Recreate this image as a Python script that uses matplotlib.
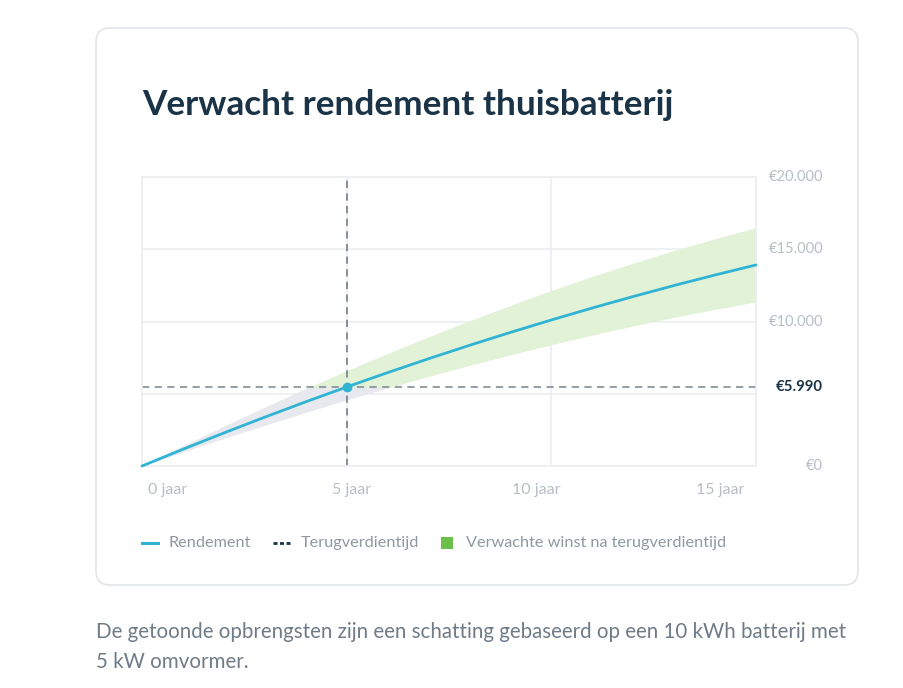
import numpy as np
import matplotlib.pyplot as plt
from matplotlib.patches import FancyBboxPatch, Rectangle
from matplotlib.lines import Line2D

plt.rcParams['font.family'] = ['Lato', 'DejaVu Sans']

# data (euro)
jaren = list(range(16))
rendement = [0, 1160, 2287, 3381, 4441, 5468, 6462, 7423, 8351, 9245,
             10106, 10934, 11729, 12491, 13219, 13914]
boven = [0, 1400, 2760, 4080, 5360, 6600, 7790, 8940, 10050, 11120,
         12150, 13120, 14040, 14910, 15730, 16500]
onder = [0, 970, 1910, 2820, 3710, 4570, 5400, 6200, 6960, 7690,
         8390, 9060, 9690, 10290, 10840, 11360]
terugverdien_jaar = 5
terugverdien_bedrag = 5990
x_ticks = [0, 5, 10, 15]
x_labels = ['0 jaar', '5 jaar', '10 jaar', '15 jaar']
y_grid = [0, 5000, 10000, 15000, 20000]
y_ticks = [0, 10000, 15000, 20000]
y_labels = ['€0', '€10.000', '€15.000', '€20.000']
legend_labels = ['Rendement', 'Terugverdientijd', 'Verwachte winst na terugverdientijd']

CYAN = '#31b4d4'
NAVY = '#1b3346'
GRID = '#eceef1'
LABEL = '#b7bec5'
LEGTXT = '#8e98a1'

fig = plt.figure(figsize=(9.04, 6.88), dpi=100)
fig.patch.set_facecolor('white')

# card (behind the axes)
card = FancyBboxPatch((96, 103), 762, 557, boxstyle='round,pad=0,rounding_size=14',
                      transform=None, facecolor='white', edgecolor='#e2e5e8', linewidth=1.2,
                      zorder=-5)
fig.patches.append(card)

fig.text(142 / 904, 1 - 105 / 688, 'Verwacht rendement thuisbatterij', fontsize=25.3,
         fontweight='bold', color=NAVY, va='center', ha='left')

ax = fig.add_axes([142 / 904, 1 - 466 / 688, 614 / 904, 289 / 688])
ax.set_facecolor('none')
ax.set_xlim(0, 15)
ax.set_ylim(0, 20000)
for s in ax.spines.values():
    s.set_color(GRID)
    s.set_linewidth(1.2)
ax.set_xticks([])
ax.set_yticks([])
for g in y_grid:
    ax.axhline(g, color=GRID, lw=1.2, zorder=0)
for t in x_ticks:
    ax.axvline(t, color=GRID, lw=1.2, zorder=0)

x = np.array(jaren)
hi = np.array(boven)
lo = np.array(onder)
pay_y = rendement[terugverdien_jaar]

# band: grey below the payback amount, green above
grey = ax.fill_between(x, lo, hi, color='#e7e9ee', lw=0, zorder=1)
grey.set_clip_path(Rectangle((0, 0), 15, pay_y, transform=ax.transData))
green = ax.fill_between(x, lo, hi, color='#e1f2d7', lw=0, zorder=1)
green.set_clip_path(Rectangle((0, pay_y), 15, 20000, transform=ax.transData))

ax.axhline(pay_y, color='#8c969d', lw=1.3, dashes=(4, 3), zorder=2)
ax.axvline(terugverdien_jaar, color='#7d878f', lw=1.3, dashes=(4, 3), zorder=2)
ax.plot(x, rendement, color=CYAN, lw=2, zorder=3, solid_capstyle='round', clip_on=False)
ax.plot([terugverdien_jaar], [pay_y], 'o', color=CYAN, ms=6, zorder=4)

# x labels
x_off = [26, 5, -15, -36]
for t, lab, o in zip(x_ticks, x_labels, x_off):
    ax.annotate(lab, (t, 0), xycoords=('data', 'axes fraction'), xytext=(o * 0.72, -17),
                textcoords='offset points', ha='center', va='center', fontsize=11.5, color=LABEL)

# y labels on the right
for v, lab in zip(y_ticks, y_labels):
    ax.annotate(lab, (1, v), xycoords=('axes fraction', 'data'), xytext=(67 * 0.72, 0),
                textcoords='offset points', ha='right', va='center', fontsize=10.5, color=LABEL)
ax.annotate('€' + f'{terugverdien_bedrag:,}'.replace(',', '.'), (1, pay_y),
            xycoords=('axes fraction', 'data'), xytext=(67 * 0.72, 0), textcoords='offset points',
            ha='right', va='center', fontsize=10.8, fontweight='bold', color=NAVY)

# legend
ly = 1 - 543 / 688
fig.add_artist(Line2D([142 / 904, 158 / 904], [ly, ly], color=CYAN, lw=2.2))
fig.text(168 / 904, ly, legend_labels[0], fontsize=11.7, color=LEGTXT, va='center')
fig.add_artist(Line2D([273 / 904, 290 / 904], [ly, ly], color=NAVY, lw=2, dashes=(1.44, 0.9)))
fig.text(301 / 904, ly, legend_labels[1], fontsize=11.7, color=LEGTXT, va='center')
fig.patches.append(Rectangle((441, 688 - 549), 12, 12, transform=None, facecolor='#6cc04a', lw=0))
fig.text(466 / 904, ly, legend_labels[2], fontsize=11.7, color=LEGTXT, va='center')

# caption
fig.text(96 / 904, 1 - 632 / 688,
         'De getoonde opbrengsten zijn een schatting gebaseerd op een 10 kWh batterij met',
         fontsize=14.8, color='#6f7b87', va='center')
fig.text(96 / 904, 1 - 662 / 688, '5 kW omvormer.', fontsize=14.8, color='#6f7b87', va='center')

fig.savefig('out.png', dpi=100, facecolor='white')
